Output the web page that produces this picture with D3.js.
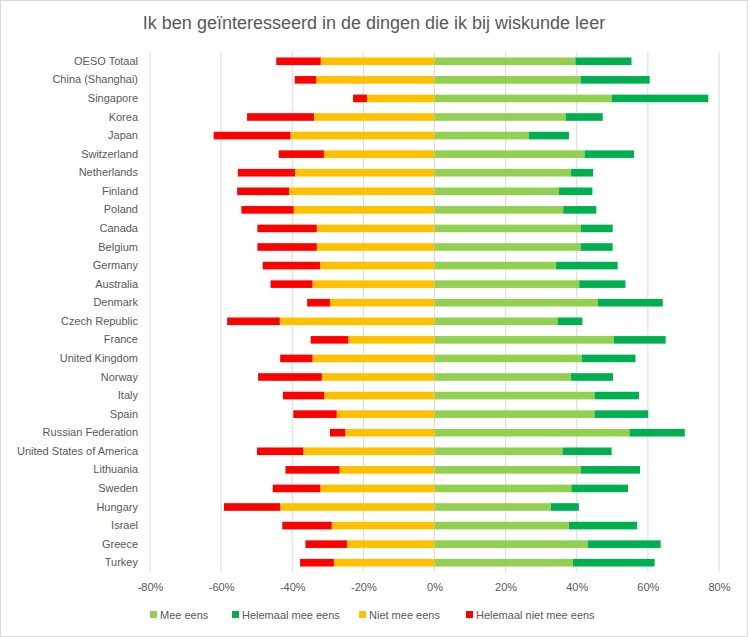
<!DOCTYPE html>
<html><head><meta charset="utf-8">
<script src="https://cdn.jsdelivr.net/npm/d3@7"></script>
<style>
body{margin:0;background:#fff;}
svg text{font-family:"Liberation Sans",Arial,sans-serif;fill:#595959;}
</style></head>
<body>
<svg id="chart" width="748" height="637"></svg>
<script>
const title = "Ik ben geïnteresseerd in de dingen die ik bij wiskunde leer";
const categories = ["OESO Totaal","China (Shanghai)","Singapore","Korea","Japan","Switzerland","Netherlands","Finland","Poland","Canada","Belgium","Germany","Australia","Denmark","Czech Republic","France","United Kingdom","Norway","Italy","Spain","Russian Federation","United States of America","Lithuania","Sweden","Hungary","Israel","Greece","Turkey"];
const meeEens = [39.6,41.1,49.8,36.9,26.5,42.2,38.4,35.0,36.2,41.1,41.1,34.2,40.7,45.9,34.6,50.4,41.4,38.4,45.0,45.0,54.8,36.0,41.1,38.5,32.7,37.8,43.1,38.9];
const helemaalMeeEens = [15.8,19.4,27.2,10.4,11.3,13.9,6.2,9.4,9.3,9.0,9.0,17.3,13.0,18.3,7.0,14.6,15.1,11.8,12.5,15.1,15.6,13.8,16.7,15.9,7.9,19.2,20.5,23.0];
const nietMeeEens = [32.0,33.3,19.0,33.9,40.5,31.1,39.2,40.9,39.6,33.1,33.1,32.2,34.3,29.4,43.5,24.2,34.3,31.7,31.0,27.5,25.1,36.9,26.7,32.1,43.4,28.9,24.6,28.3];
const helemaalNiet = [12.5,6.0,3.9,18.8,21.6,12.7,16.1,14.6,14.7,16.7,16.7,16.1,11.8,6.4,14.8,10.6,9.1,17.9,11.6,12.2,4.3,13.0,15.2,13.4,15.8,13.9,11.7,9.5];
const tickValues = [-80,-60,-40,-20,0,20,40,60,80];
const tickLabels = ["-80%","-60%","-40%","-20%","0%","20%","40%","60%","80%"];
const seriesNames = ["Mee eens","Helemaal mee eens","Niet mee eens","Helemaal niet mee eens"];
const colors = ["#92D050","#00B050","#FFC000","#FF0000"];

const svg = d3.select("#chart");
svg.append("rect").attr("x",0.5).attr("y",0.5).attr("width",747).attr("height",636)
  .attr("fill","#fff").attr("stroke","#d9d9d9");

const x = d3.scaleLinear().domain([-80,80]).range([150,719]);
const y = d3.scaleBand().domain(categories).range([52,572]).padding(0);
const bh = 7.6;

// gridlines
svg.append("g").selectAll("line").data(tickValues).join("line")
  .attr("x1",d=>x(d)).attr("x2",d=>x(d)).attr("y1",52).attr("y2",572)
  .attr("stroke","#d9d9d9").attr("stroke-width",1);

// stacks
const segs = [];
categories.forEach((c,i)=>{
  segs.push({c, x0:0, x1:meeEens[i], s:0});
  segs.push({c, x0:meeEens[i], x1:meeEens[i]+helemaalMeeEens[i], s:1});
  segs.push({c, x0:-nietMeeEens[i], x1:0, s:2});
  segs.push({c, x0:-nietMeeEens[i]-helemaalNiet[i], x1:-nietMeeEens[i], s:3});
});
svg.append("g").selectAll("rect").data(segs).join("rect")
  .attr("x",d=>x(Math.min(d.x0,d.x1)))
  .attr("width",d=>Math.abs(x(d.x1)-x(d.x0)))
  .attr("y",d=>y(d.c)+y.bandwidth()/2-bh/2)
  .attr("height",bh)
  .attr("fill",d=>colors[d.s]);

// y labels
const ya = svg.append("g").attr("transform","translate(145,0)")
  .call(d3.axisLeft(y).tickSize(0).tickPadding(7));
ya.select(".domain").remove();
ya.selectAll("text").style("font-size","11px").attr("fill","#595959");

// x labels
const xa = svg.append("g").attr("transform","translate(0,576)")
  .call(d3.axisBottom(x).tickValues(tickValues).tickSize(0).tickPadding(7)
    .tickFormat((d,i)=>tickLabels[i]));
xa.select(".domain").remove();
xa.selectAll("text").style("font-size","11px").attr("fill","#595959");

// title
svg.append("text").attr("x",374).attr("y",29).attr("text-anchor","middle")
  .style("font-size","18px").text(title);

// legend
const legX = [150,232,359,466];
const lg = svg.append("g");
seriesNames.forEach((n,i)=>{
  lg.append("rect").attr("x",legX[i]).attr("y",611).attr("width",7).attr("height",7).attr("fill",colors[i]);
  lg.append("text").attr("x",legX[i]+10).attr("y",619).style("font-size","11px").text(n);
});
</script>
</body></html>
